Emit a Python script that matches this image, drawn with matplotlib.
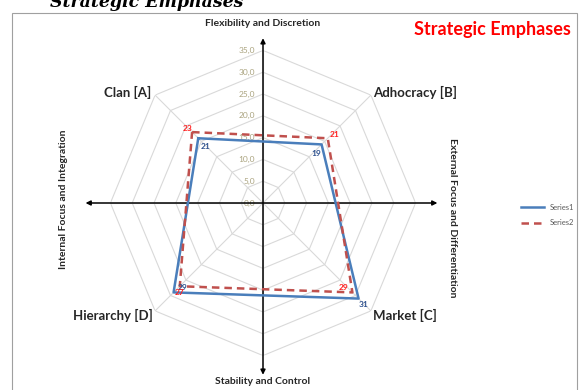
import matplotlib
matplotlib.use("Agg")
import matplotlib.pyplot as plt
import numpy as np
from matplotlib.patches import Rectangle

W, H = 584, 390

categories = ["Clan [A]", "Adhocracy [B]", "Market [C]", "Hierarchy [D]"]
series1 = [21, 19, 31, 29]
series2 = [23, 21, 29, 27]
ring_values = [0, 5, 10, 15, 20, 25, 30, 35]

BLUE = "#4a7ebb"
RED = "#c0504d"
GRID = "#d9d9d9"
TICK = "#aaa37f"
FONT = "Lato"


def px(x, y):
  # pixel position (from top-left) -> figure fraction
  return x / W, 1 - y / H


fig = plt.figure(figsize=(W / 100, H / 100), dpi=100)
fig.patch.set_facecolor("white")

# outer chart border
fig.add_artist(Rectangle(px(12, 395), (577 - 12) / W, (395 - 13) / H,
                         transform=fig.transFigure, fill=False,
                         edgecolor="#a0a0a0", lw=0.8))

# section heading, partly cut off at the top
fig.text(*px(50, 7), "Strategic Emphases", family="DejaVu Serif",
         style="italic", weight="bold", fontsize=12.5, ha="left",
         va="baseline", color="black")

cx, cy, R = 263, 203, 152.6
ax = fig.add_axes([(cx - R) / W, (H - cy - R) / H, 2 * R / W, 2 * R / H],
                  projection="polar")
ax.set_ylim(0, 35)
ax.set_axis_off()

# octagonal grid
spokes = np.deg2rad(np.arange(0, 361, 45))
for r in ring_values[1:]:
  ax.plot(spokes, [r] * len(spokes), color=GRID, lw=0.8, zorder=1)
for t in spokes[:-1]:
  ax.plot([t, t], [0, 35], color=GRID, lw=0.8, zorder=1)

# value labels along the vertical axis
for r in ring_values:
  ax.annotate(f"{r:.1f}".replace(".", ","), xy=(np.pi / 2, r),
              xytext=(-8, 0), textcoords="offset pixels", ha="right",
              va="center", fontsize=6, color=TICK, family=FONT,
              annotation_clip=False)

# axis arrows
arrow = dict(arrowstyle="<|-|>", color="black", lw=1.1, mutation_scale=7,
             shrinkA=0, shrinkB=0)
ax.annotate("", xy=(np.pi / 2, 37.8), xytext=(3 * np.pi / 2, 39.4),
            arrowprops=arrow, annotation_clip=False)
ax.annotate("", xy=(np.pi, 40.7), xytext=(0, 40.0),
            arrowprops=arrow, annotation_clip=False)

theta = np.deg2rad(135 - 90 * np.arange(len(categories)))
closed = np.append(theta, theta[0])
ax.plot(closed, series1 + series1[:1], color=BLUE, lw=1.8, zorder=4,
        label="Series1", clip_on=False)
ax.plot(closed, series2 + series2[:1], color=RED, lw=1.8, zorder=5,
        dashes=(3, 2), label="Series2", clip_on=False)

# data labels
off1 = [(7, -8), (-5, -9), (5, -6), (9, 5)]
off2 = [(-5, 4), (7, 4), (-9, 5), (0, -6)]
for t, v, o in zip(theta, series1, off1):
  ax.annotate(str(v), xy=(t, v), xytext=o, textcoords="offset pixels",
              ha="center", va="center", fontsize=6, weight="bold",
              color="#2f528f", family=FONT, zorder=6)
for t, v, o in zip(theta, series2, off2):
  ax.annotate(str(v), xy=(t, v), xytext=o, textcoords="offset pixels",
              ha="center", va="center", fontsize=6, weight="bold",
              color="#ff1f1f", family=FONT, zorder=6)

# category labels
cat_pos = [(128, 92), (415, 92), (405, 315), (113, 315)]
for name, (x, y) in zip(categories, cat_pos):
  fig.text(*px(x, y), name, ha="center", va="center", fontsize=9.5,
           weight="bold", color="#262626", family=FONT)

# dimension labels
fig.text(*px(263, 24), "Flexibility and Discretion", ha="center",
         va="center", fontsize=7.5, weight="bold", color="#262626",
         family=FONT)
fig.text(*px(263, 381), "Stability and Control", ha="center", va="center",
         fontsize=7.5, weight="bold", color="#262626", family=FONT)
fig.text(*px(64, 199), "Internal Focus and Integration", ha="center",
         va="center", rotation=90, fontsize=7.5, weight="bold",
         color="#262626", family=FONT)
fig.text(*px(452, 218), "External Focus and Differentiation", ha="center",
         va="center", rotation=-90, fontsize=7.5, weight="bold",
         color="#262626", family=FONT)

fig.text(*px(492, 30), "Strategic Emphases", ha="center", va="center",
         fontsize=13, weight="bold", color="#ff0000", family=FONT)

fig.legend(loc="center left", bbox_to_anchor=px(514, 215), frameon=False,
           handlelength=3.0, labelspacing=1.1,
           prop={"family": FONT, "size": 5.5}, labelcolor="#595959")

fig.savefig("out.png", dpi=100, facecolor="white")
